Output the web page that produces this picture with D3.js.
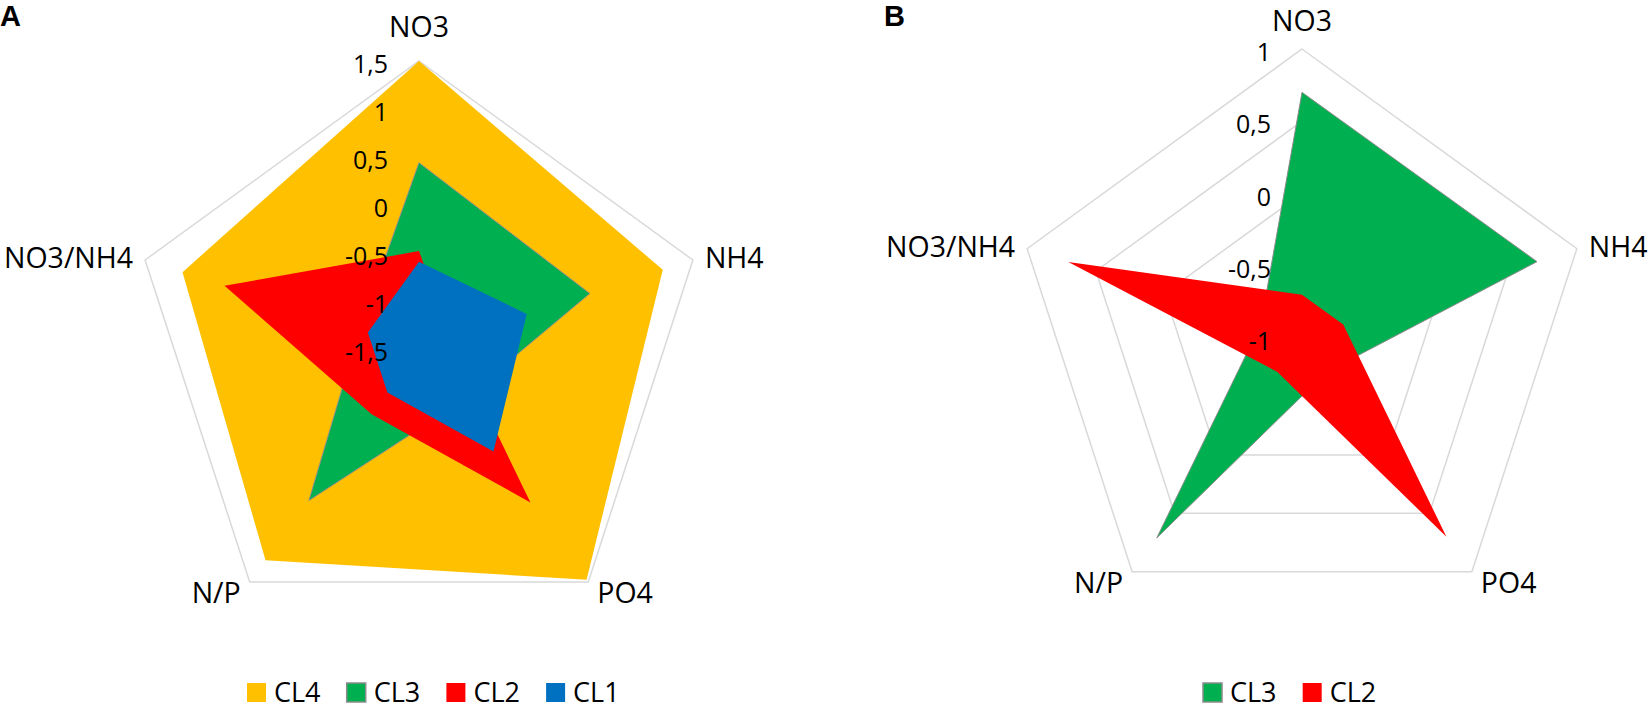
<!DOCTYPE html>
<html><head><meta charset="utf-8">
<script src="https://cdn.jsdelivr.net/npm/d3@7"></script>
<style>
body{margin:0;background:#fff}
svg{display:block}
text{font-family:"Open Sans",sans-serif;fill:#000}
</style>
</head><body>
<svg id="c" width="1650" height="710"></svg>
<script>
// ---- data ----
const categories = ["NO3", "NH4", "PO4", "N/P", "NO3/NH4"];

const seriesNamesA = ["CL4", "CL3", "CL2", "CL1"];
const cl4A = [1.5, 1.17, 1.47, 1.22, 1.09];
const cl3A = [0.44, 0.37, -0.8, 0.45, -0.85];
const cl2A = [-0.48, -1.15, 0.475, -0.66, 0.63];
const cl1A = [-0.59, -0.32, -0.18, -0.94, -0.94];
const ticksA = [-1.5, -1, -0.5, 0, 0.5, 1, 1.5];

const seriesNamesB = ["CL3", "CL2"];
const cl3B = [0.7, 0.71, -0.71, 0.71, -0.7];
const cl2B = [-0.7, -0.7, 0.7, -0.71, 0.7];
const ticksB = [-1, -0.5, 0, 0.5, 1];

const colors = {CL4: "#FFC000", CL3: "#00B050", CL2: "#FF0000", CL1: "#0070C0"};
const strokes = {CL3: "#8c8c8c"};

// ---- drawing ----
const svg = d3.select("#c");
const fmt = d3.formatLocale({decimal: ",", thousands: " ", grouping: [3], currency: ["", ""], minus: "-"}).format("~g");

function radar(opt) {
  const g = svg.append("g");
  const r = d3.scaleLinear().domain([opt.ticks[0], opt.ticks[opt.ticks.length - 1]]).range([0, opt.R]);
  const ang = d3.scaleLinear().domain([0, categories.length]).range([0, 2 * Math.PI]);
  const plot = g.append("g").attr("transform", `translate(${opt.cx},${opt.cy})`);
  const ring = d3.lineRadial().angle((d, i) => ang(i)).radius(d => d).curve(d3.curveLinearClosed);
  const line = d3.lineRadial().angle((d, i) => ang(i)).radius(d => r(d)).curve(d3.curveLinearClosed);

  // grid rings
  opt.ticks.slice(1).forEach(t => {
    plot.append("path").attr("d", ring(categories.map(() => r(t))))
      .attr("fill", "none").attr("stroke", "#d9d9d9").attr("stroke-width", 1.5);
  });

  // series
  opt.series.forEach(s => {
    plot.append("path").attr("d", line(s.values))
      .attr("fill", colors[s.name])
      .attr("stroke", strokes[s.name] || "none")
      .attr("stroke-width", 1);
  });

  // tick labels
  opt.ticks.forEach(t => {
    plot.append("text").attr("x", -31).attr("y", -r(t) + 2)
      .attr("text-anchor", "end").attr("dominant-baseline", "central")
      .style("font-size", "25px").text(fmt(t));
  });

  // category labels
  categories.forEach((c, i) => {
    const a = ang(i), sx = Math.sin(a), cy = Math.cos(a);
    const px = opt.R * sx, py = -opt.R * cy;
    let anchor = "middle", dx = 0, dy = -35;
    if (Math.abs(sx) > 0.1) {
      anchor = sx > 0 ? "start" : "end";
      if (cy > 0) { dx = 12 * Math.sign(sx); dy = -3; }
      else { dx = 9 * Math.sign(sx); dy = 10; }
    }
    const yAbs = Math.max(opt.cy + py + dy, 20);
    plot.append("text").attr("x", px + dx).attr("y", yAbs - opt.cy)
      .attr("text-anchor", anchor).attr("dominant-baseline", "central")
      .style("font-size", "28.5px").text(c);
  });

  // legend
  const lg = g.append("g").attr("transform", `translate(${opt.legendX},683)`);
  opt.series.forEach((s, i) => {
    const it = lg.append("g").attr("transform", `translate(${i * 99.7},0)`);
    it.append("rect").attr("width", 19).attr("height", 19)
      .attr("fill", colors[s.name]).attr("stroke", strokes[s.name] || "none").attr("stroke-width", 1.5);
    it.append("text").attr("x", 27).attr("y", 18.5)
      .style("font-size", "27px").text(s.name);
  });

  // panel letter
  g.append("text").attr("x", opt.letterX).attr("y", 26)
    .style("font-family", "'Liberation Sans', Arial, sans-serif").style("font-weight", "bold")
    .style("font-size", "29px").text(opt.letter);
}

radar({
  cx: 419, cy: 349, R: 288, ticks: ticksA,
  series: [cl4A, cl3A, cl2A, cl1A].map((v, i) => ({name: seriesNamesA[i], values: v})),
  legendX: 247, letter: "A", letterX: 0
});
radar({
  cx: 1302, cy: 338, R: 289, ticks: ticksB,
  series: [cl3B, cl2B].map((v, i) => ({name: seriesNamesB[i], values: v})),
  legendX: 1203, letter: "B", letterX: 884
});
</script>
</body></html>
